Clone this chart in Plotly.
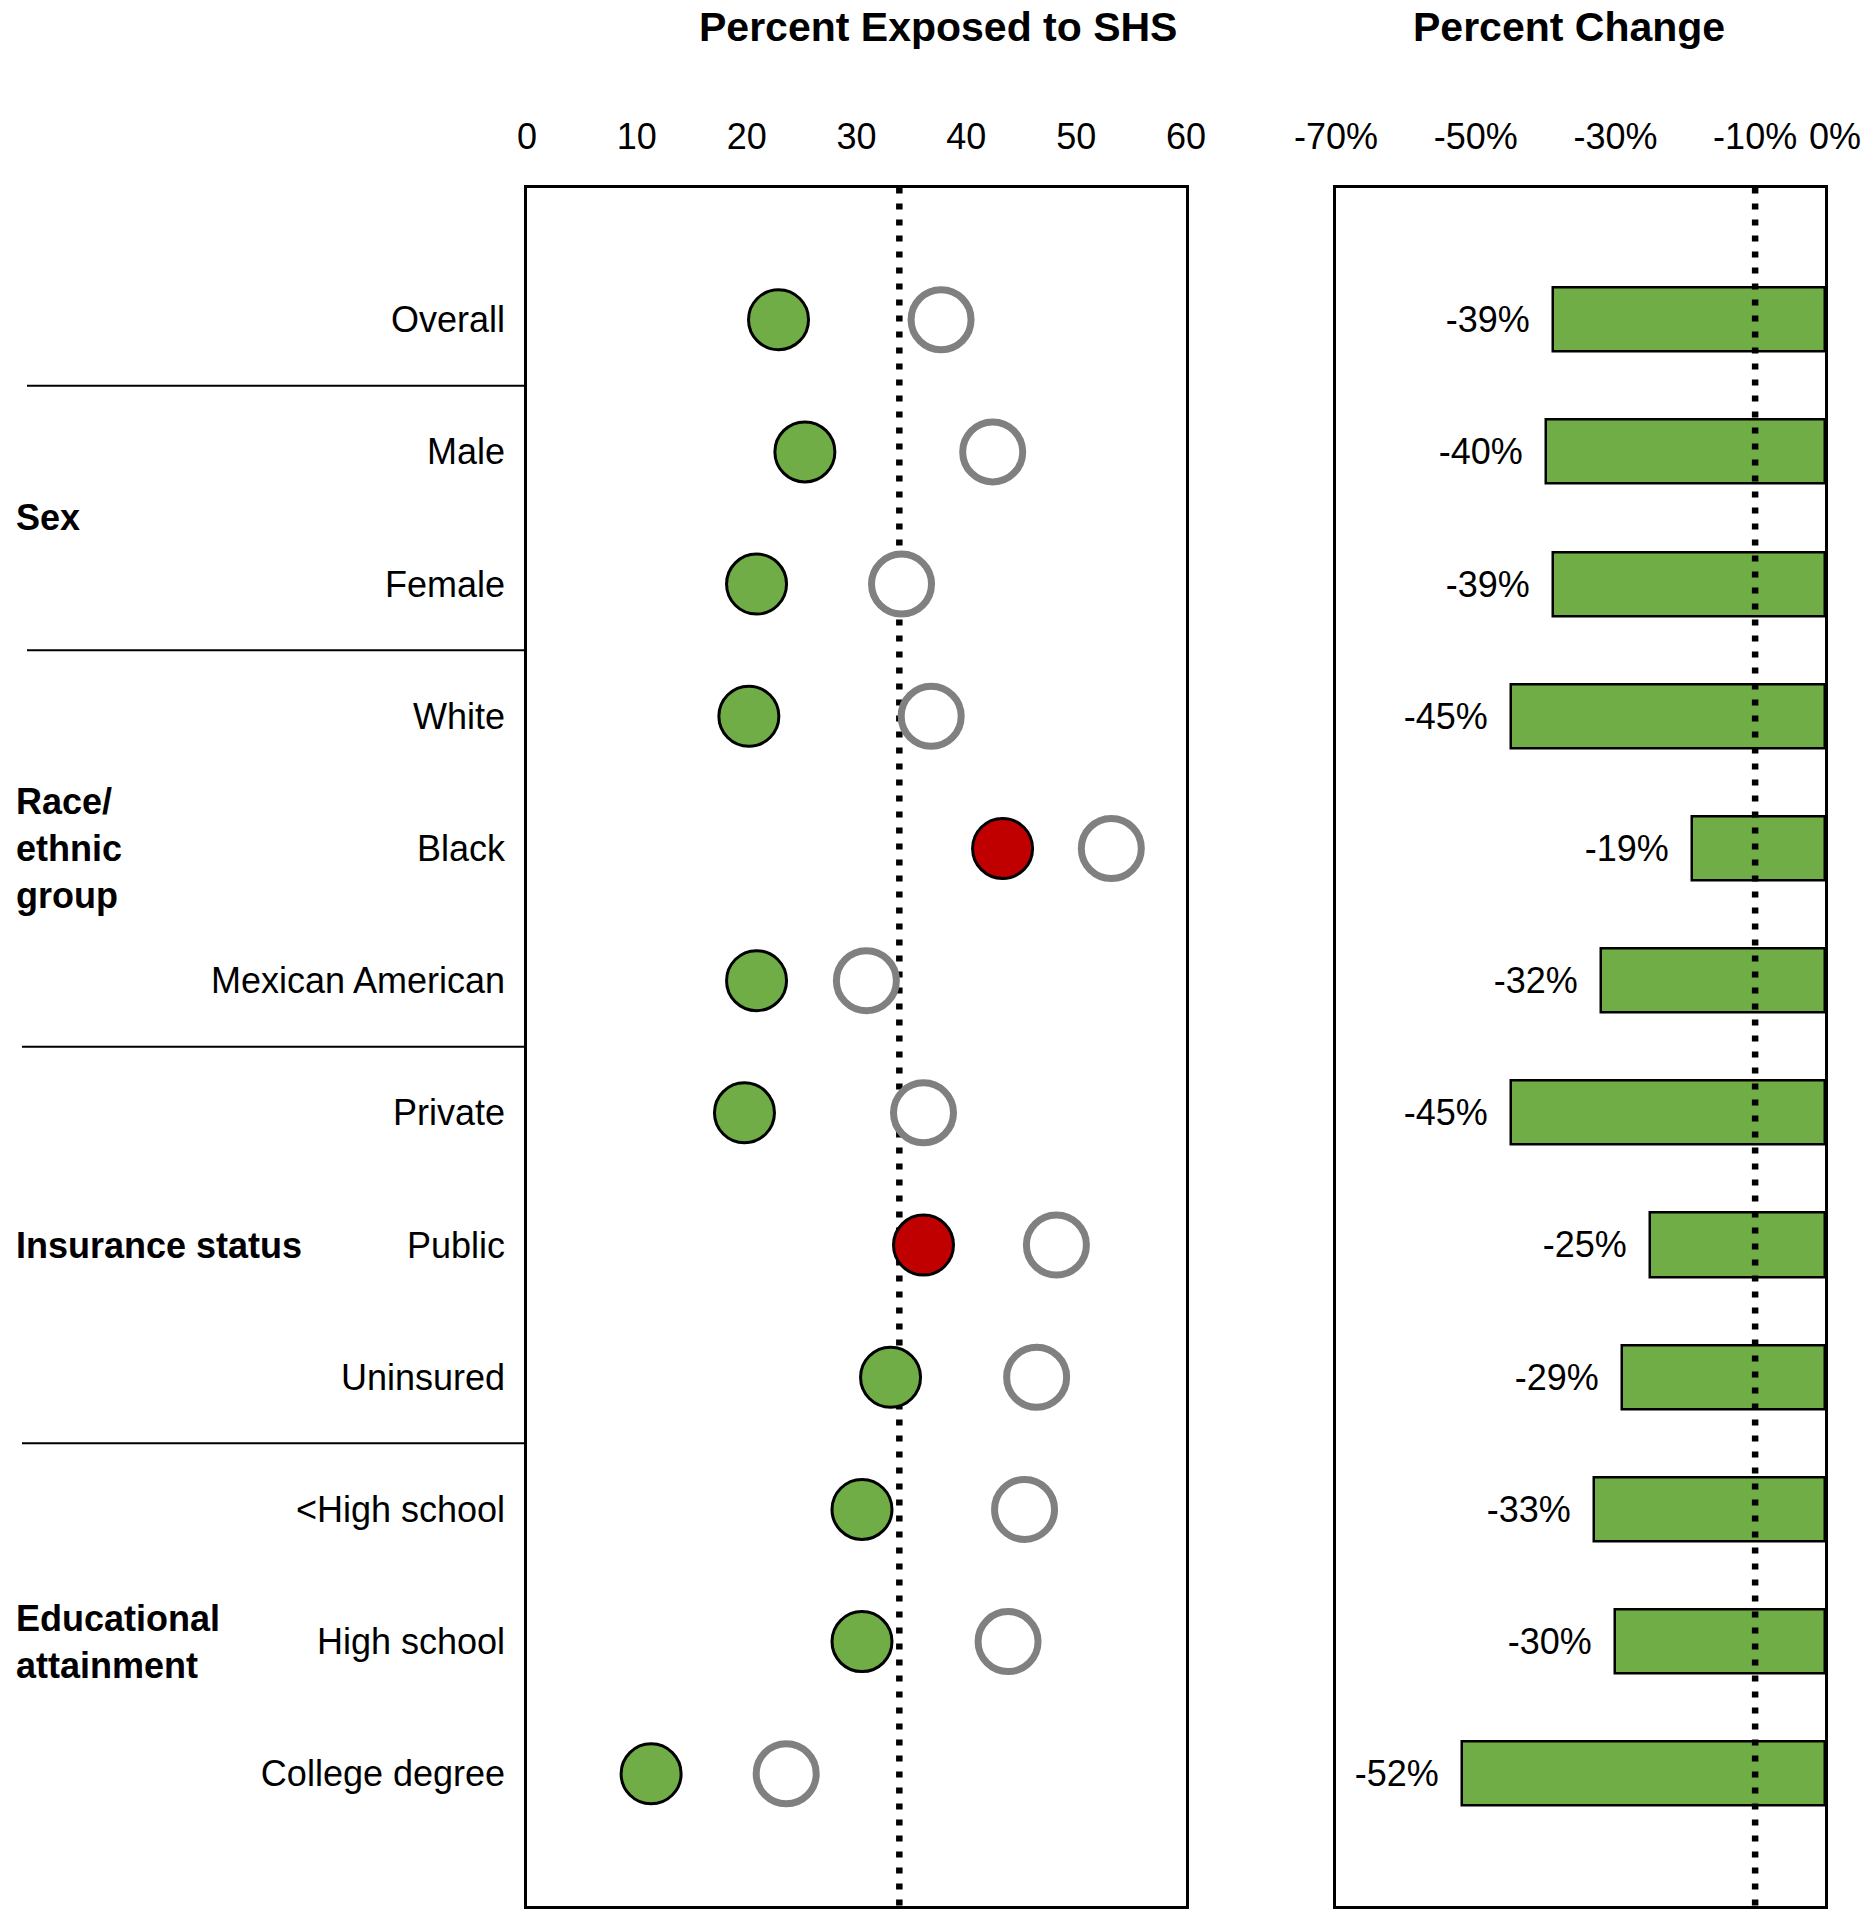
import plotly.graph_objects as go

# ---------------- data ----------------
categories = ["Overall", "Male", "Female", "White", "Black", "Mexican American",
              "Private", "Public", "Uninsured", "<High school", "High school", "College degree"]
recent = [22.9, 25.3, 20.9, 20.2, 43.3, 20.9, 19.8, 36.1, 33.1, 30.5, 30.5, 11.3]
earlier = [37.7, 42.4, 34.1, 36.8, 53.2, 30.9, 36.1, 48.2, 46.4, 45.3, 43.8, 23.6]
highlight = [False, False, False, False, True, False, False, True, False, False, False, False]
pct_change = [-39, -40, -39, -45, -19, -32, -45, -25, -29, -33, -30, -52]
ref_exposed = 33.9
ref_change = -10
x1_ticks = [0, 10, 20, 30, 40, 50, 60]
x2_ticks = [-70, -50, -30, -10, 0]
x2_ticktext = ["-70%", "-50%", "-30%", "-10%", "\u00a0\u00a00%"]
groups = [("Sex", 2.5), ("Race/<br>ethnic<br>group", 5), ("Insurance status", 8),
          ("Educational<br>attainment", 11)]
separators = [1.5, 3.5, 6.5, 9.5]

# ---------------- styling ----------------
W, H = 1873, 1920
FONT = "Liberation Sans, Arial, sans-serif"
GREEN = "#70AD47"
RED = "#C00000"
GRAY = "#808080"
FS = 36

rows = list(range(1, len(categories) + 1))

fig = go.Figure()

# earlier (open circles)
fig.add_trace(go.Scatter(
    x=earlier, y=rows, mode="markers", xaxis="x", yaxis="y",
    marker=dict(size=60, color="white", line=dict(color=GRAY, width=7)),
    showlegend=False, hoverinfo="skip", cliponaxis=False))

# recent (filled circles)
fig.add_trace(go.Scatter(
    x=recent, y=rows, mode="markers", xaxis="x", yaxis="y",
    marker=dict(size=60, color=[RED if h else GREEN for h in highlight],
                line=dict(color="black", width=3)),
    showlegend=False, hoverinfo="skip", cliponaxis=False))

# percent change bars
fig.add_trace(go.Bar(
    x=pct_change, y=rows, orientation="h", xaxis="x2", yaxis="y2",
    width=0.485, marker=dict(color=GREEN, line=dict(color="black", width=2.5)),
    text=[f"{v}%\u00a0\u00a0" for v in pct_change], textposition="outside",
    textfont=dict(size=FS, color="black", family=FONT), constraintext="none",
    cliponaxis=False, showlegend=False, hoverinfo="skip"))

axis_common = dict(showline=True, mirror=True, linecolor="black", linewidth=2.5,
                   showgrid=False, zeroline=False, automargin=False)

fig.update_layout(
    width=W, height=H,
    margin=dict(l=0, r=0, t=0, b=0),
    paper_bgcolor="white", plot_bgcolor="white",
    font=dict(family=FONT, size=FS, color="black"),
    xaxis=dict(domain=[527 / W, 1186 / W], range=[0, 60], side="top",
               tickvals=x1_ticks, ticks="outside", ticklen=21, tickangle=0,
               tickcolor="rgba(0,0,0,0)", tickfont=dict(size=FS), **axis_common),
    yaxis=dict(domain=[1 - 1906 / H, 1 - 187.5 / H], range=[13, 0],
               tickvals=rows, ticktext=categories, ticks="outside", ticklen=12,
               tickcolor="rgba(0,0,0,0)", tickfont=dict(size=FS), **axis_common),
    xaxis2=dict(domain=[1336 / W, 1825 / W], range=[-70, 0], side="top",
                anchor="y2", tickvals=x2_ticks, ticktext=x2_ticktext, tickangle=0,
                ticks="outside", ticklen=21, tickcolor="rgba(0,0,0,0)",
                tickfont=dict(size=FS), **axis_common),
    yaxis2=dict(domain=[1 - 1906 / H, 1 - 187.5 / H], range=[13, 0], anchor="x2",
                showticklabels=False, ticks="", **axis_common),
    bargap=0,
)

# reference dotted lines
fig.add_shape(type="line", xref="x", yref="y", x0=ref_exposed, x1=ref_exposed, y0=0, y1=13,
              line=dict(color="black", width=6.5, dash="6px,10px"), layer="below")
fig.add_shape(type="line", xref="x2", yref="y2", x0=ref_change, x1=ref_change, y0=0, y1=13,
              line=dict(color="black", width=6.5, dash="6px,10px"), layer="above")

# group separators
for i, s in enumerate(separators):
    x0 = 27 / W if i < 2 else 22 / W
    fig.add_shape(type="line", xref="paper", yref="y", x0=x0, x1=527 / W, y0=s, y1=s,
                  line=dict(color="black", width=2))

# group labels
for text, yv in groups:
    fig.add_annotation(text=f"<b>{text}</b>", xref="paper", yref="y", x=14 / W, y=yv,
                       xanchor="left", yanchor="middle", align="left", showarrow=False,
                       font=dict(size=FS, family=FONT, color="black"))

# panel titles
fig.add_annotation(text="<b>Percent Exposed to SHS</b>", xref="paper", yref="paper",
                   x=938 / W, y=1 - 27 / H, xanchor="center", yanchor="middle",
                   showarrow=False, font=dict(size=41, family=FONT, color="black"))
fig.add_annotation(text="<b>Percent Change</b>", xref="paper", yref="paper",
                   x=1569 / W, y=1 - 27 / H, xanchor="center", yanchor="middle",
                   showarrow=False, font=dict(size=41, family=FONT, color="black"))

fig.write_html("out.html", config={"displayModeBar": False},
               post_script="document.body.style.margin='0';")
